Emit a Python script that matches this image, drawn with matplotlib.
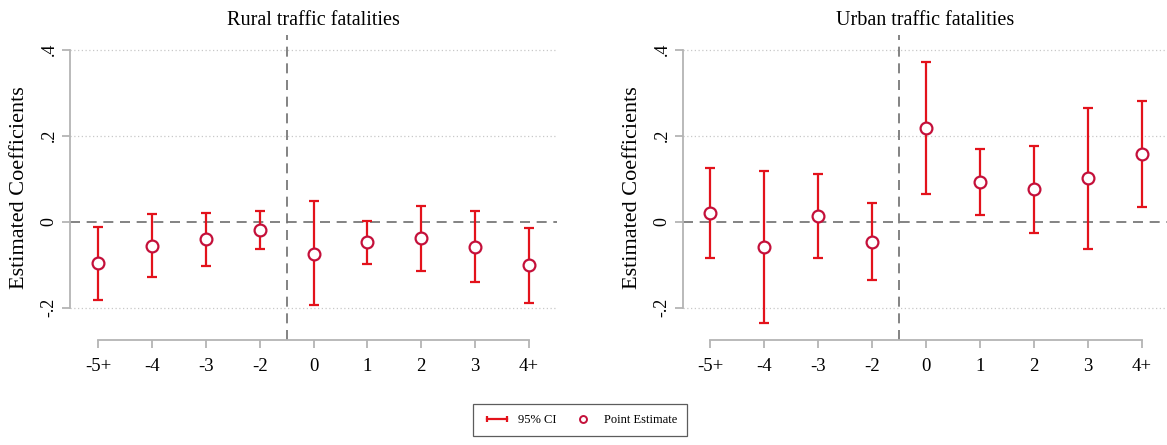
import matplotlib
matplotlib.use("Agg")
import matplotlib.pyplot as plt
from matplotlib.lines import Line2D
from matplotlib.legend_handler import HandlerLine2D

plt.rcParams['font.family'] = ['Liberation Serif', 'DejaVu Serif']

# event-time categories
periods = ["-5+", "-4", "-3", "-2", "0", "1", "2", "3", "4+"]

# rural fatalities: point estimates and 95% CI bounds
rural_est = [-0.097, -0.056, -0.041, -0.019, -0.074, -0.048, -0.039, -0.058, -0.101]
rural_lo = [-0.182, -0.128, -0.103, -0.063, -0.194, -0.098, -0.114, -0.141, -0.190]
rural_hi = [-0.013, 0.019, 0.020, 0.025, 0.047, 0.002, 0.036, 0.025, -0.014]

# urban fatalities
urban_est = [0.020, -0.059, 0.014, -0.046, 0.218, 0.092, 0.075, 0.101, 0.157]
urban_lo = [-0.084, -0.236, -0.084, -0.136, 0.064, 0.015, -0.026, -0.063, 0.034]
urban_hi = [0.126, 0.119, 0.110, 0.043, 0.372, 0.169, 0.177, 0.264, 0.281]

yticks = [-0.2, 0, 0.2, 0.4]
ytick_labels = ["-.2", "0", ".2", ".4"]

ci_color = "#e3121b"
pt_color = "#c4103a"
axis_gray = "#b4b4b4"
ref_gray = "#6e6e6e"

fig = plt.figure(figsize=(11.67, 4.45), dpi=100)
ax_r = fig.add_axes([70 / 1167, 1 - 339.6 / 445, 487 / 1167, 304.6 / 445])
ax_u = fig.add_axes([683 / 1167, 1 - 339.6 / 445, 484 / 1167, 304.6 / 445])


def draw_panel(ax, est, lo, hi, title, xlim):
    x = list(range(len(periods)))
    yerr = [[e - l for e, l in zip(est, lo)], [h - e for e, h in zip(est, hi)]]
    for yv in [-0.2, 0.2, 0.4]:
        ax.axhline(yv, color="#c8c8c8", lw=0.9, ls=(0, (1, 2)), zorder=0)
    ax.axhline(0, color=ref_gray, lw=1.2, ls=(0, (6, 4)), zorder=1)
    ax.axvline(3.5, color=ref_gray, lw=1.2, ls=(0, (6, 4)), zorder=1)
    ax.errorbar(x, est, yerr=yerr, fmt="none", ecolor=ci_color, elinewidth=1.6,
                capsize=3.6, capthick=1.6, zorder=2)
    ax.plot(x, est, "o", ms=8.5, mfc="white", mec=pt_color, mew=1.6, zorder=3)
    ax.set_xlim(*xlim)
    ax.set_ylim(-0.274, 0.434)
    ax.set_xticks(x)
    ax.set_xticklabels(periods, fontsize=13.5)
    ax.set_yticks(yticks)
    ax.set_yticklabels(ytick_labels, fontsize=13, rotation=90, va="center")
    for s in ["top", "right"]:
        ax.spines[s].set_visible(False)
    ax.spines["bottom"].set_bounds(0, 8)
    ax.spines["left"].set_bounds(-0.2, 0.4)
    for s in ["bottom", "left"]:
        ax.spines[s].set_color(axis_gray)
        ax.spines[s].set_linewidth(1.3)
    ax.tick_params(colors=axis_gray, labelcolor="black", width=1.3, length=6)
    ax.tick_params(axis="x", pad=7)
    ax.tick_params(axis="y", pad=3)
    ax.set_ylabel("Estimated Coefficients", fontsize=16, labelpad=8)
    ax.set_title(title, fontsize=14.5, pad=7)


draw_panel(ax_r, rural_est, rural_lo, rural_hi, "Rural traffic fatalities", (-0.52, 8.52))
draw_panel(ax_u, urban_est, urban_lo, urban_hi, "Urban traffic fatalities", (-0.5, 8.46))

ci_handle = Line2D([], [], color=ci_color, lw=1.6, marker="|", ms=5, mew=1.6)
pt_handle = Line2D([], [], ls="none", marker="o", ms=5, mfc="white", mec=pt_color, mew=1.4)
leg = fig.legend([ci_handle, pt_handle], ["95% CI", "Point Estimate"],
                 loc="center", bbox_to_anchor=(580 / 1167, 1 - 420 / 445),
                 ncol=2, fontsize=9, frameon=True, fancybox=False,
                 edgecolor="#333333", handlelength=2.2, handletextpad=0.6,
                 columnspacing=1.0, borderpad=0.8,
                 handler_map={ci_handle: HandlerLine2D(numpoints=2),
                              pt_handle: HandlerLine2D(numpoints=1)})
leg.get_frame().set_linewidth(0.9)

fig.savefig("out.png", dpi=100)
